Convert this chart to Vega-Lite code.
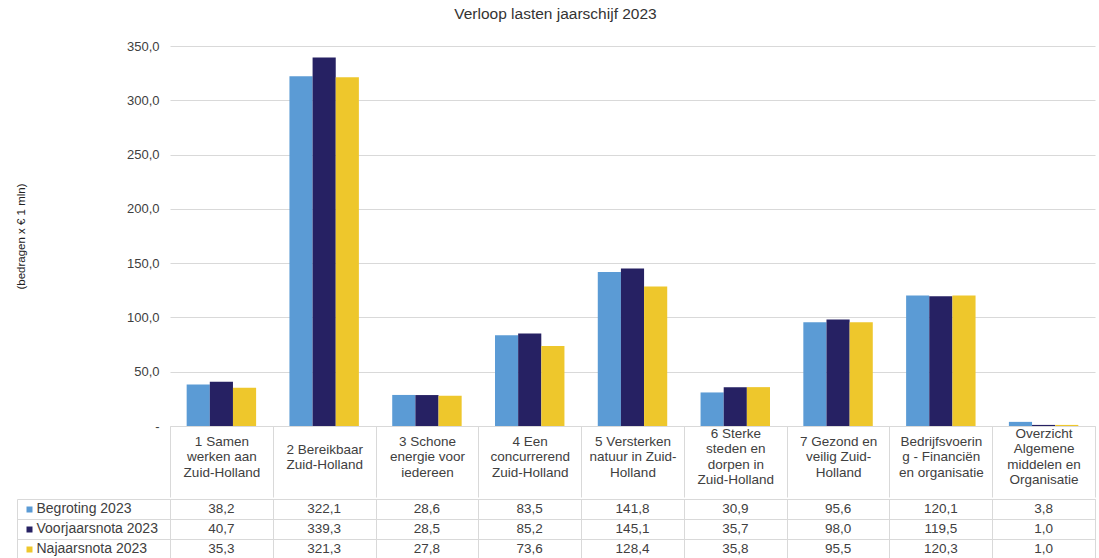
{
  "$schema": "https://vega.github.io/schema/vega-lite/v6.json",
  "padding": {"left": 15, "top": 6, "right": 0, "bottom": 0},
  "config": {
    "font": "Liberation Sans",
    "locale": {"number": {"decimal": ",", "thousands": ".", "grouping": [3], "currency": ["€ ", ""]}},
    "concat": {"spacing": 0},
    "title": {"fontSize": 15.5, "fontWeight": "normal", "color": "#333333", "offset": 18, "font": "Liberation Sans"},
    "axis": {"labelFont": "Liberation Sans", "titleFont": "Liberation Sans"}
  },
  "title": {"text": "Verloop  lasten jaarschijf 2023", "anchor": "middle"},
  "datasets": {
    "d": [
      {"cat": "1 Samen|werken aan|Zuid-Holland", "serie": "Begroting 2023", "v": 38.2},
      {"cat": "1 Samen|werken aan|Zuid-Holland", "serie": "Voorjaarsnota 2023", "v": 40.7},
      {"cat": "1 Samen|werken aan|Zuid-Holland", "serie": "Najaarsnota 2023", "v": 35.3},
      {"cat": "2 Bereikbaar|Zuid-Holland", "serie": "Begroting 2023", "v": 322.1},
      {"cat": "2 Bereikbaar|Zuid-Holland", "serie": "Voorjaarsnota 2023", "v": 339.3},
      {"cat": "2 Bereikbaar|Zuid-Holland", "serie": "Najaarsnota 2023", "v": 321.3},
      {"cat": "3 Schone|energie voor|iedereen", "serie": "Begroting 2023", "v": 28.6},
      {"cat": "3 Schone|energie voor|iedereen", "serie": "Voorjaarsnota 2023", "v": 28.5},
      {"cat": "3 Schone|energie voor|iedereen", "serie": "Najaarsnota 2023", "v": 27.8},
      {"cat": "4 Een|concurrerend|Zuid-Holland", "serie": "Begroting 2023", "v": 83.5},
      {"cat": "4 Een|concurrerend|Zuid-Holland", "serie": "Voorjaarsnota 2023", "v": 85.2},
      {"cat": "4 Een|concurrerend|Zuid-Holland", "serie": "Najaarsnota 2023", "v": 73.6},
      {"cat": "5 Versterken|natuur in Zuid-|Holland", "serie": "Begroting 2023", "v": 141.8},
      {"cat": "5 Versterken|natuur in Zuid-|Holland", "serie": "Voorjaarsnota 2023", "v": 145.1},
      {"cat": "5 Versterken|natuur in Zuid-|Holland", "serie": "Najaarsnota 2023", "v": 128.4},
      {"cat": "6 Sterke|steden en|dorpen in|Zuid-Holland", "serie": "Begroting 2023", "v": 30.9},
      {"cat": "6 Sterke|steden en|dorpen in|Zuid-Holland", "serie": "Voorjaarsnota 2023", "v": 35.7},
      {"cat": "6 Sterke|steden en|dorpen in|Zuid-Holland", "serie": "Najaarsnota 2023", "v": 35.8},
      {"cat": "7 Gezond en|veilig Zuid-|Holland", "serie": "Begroting 2023", "v": 95.6},
      {"cat": "7 Gezond en|veilig Zuid-|Holland", "serie": "Voorjaarsnota 2023", "v": 98.0},
      {"cat": "7 Gezond en|veilig Zuid-|Holland", "serie": "Najaarsnota 2023", "v": 95.5},
      {"cat": "Bedrijfsvoerin|g - Financiën|en organisatie", "serie": "Begroting 2023", "v": 120.1},
      {"cat": "Bedrijfsvoerin|g - Financiën|en organisatie", "serie": "Voorjaarsnota 2023", "v": 119.5},
      {"cat": "Bedrijfsvoerin|g - Financiën|en organisatie", "serie": "Najaarsnota 2023", "v": 120.3},
      {"cat": "Overzicht|Algemene|middelen en|Organisatie", "serie": "Begroting 2023", "v": 3.8},
      {"cat": "Overzicht|Algemene|middelen en|Organisatie", "serie": "Voorjaarsnota 2023", "v": 1.0},
      {"cat": "Overzicht|Algemene|middelen en|Organisatie", "serie": "Najaarsnota 2023", "v": 1.0}
    ]
  },
  "spacing": 0,
  "vconcat": [
    {
      "width": 925,
      "height": 380,
      "view": {"stroke": null},
      "data": {"name": "d"},
      "mark": {"type": "bar"},
      "encoding": {
        "x": {
          "field": "cat", "type": "nominal", "sort": null,
          "scale": {"paddingInner": 0, "paddingOuter": 0},
          "axis": {
            "title": null, "labelAngle": 0,
            "labelExpr": "split(datum.label, '|')",
            "labelBaseline": {
              "condition": [
                {"test": "length(split(datum.value, '|')) === 4", "value": "line-bottom"},
                {"test": "length(split(datum.value, '|')) === 2", "value": "line-top"}
              ],
              "value": "middle"
            },
            "labelPadding": -55.5, "labelFontSize": 13.5,
            "labelLineHeight": 15.3, "labelColor": "#404040", "labelLimit": 0, "labelOverlap": false,
            "tickBand": "extent", "tickSize": 71, "tickColor": "#D9D9D9", "domainColor": "#D9D9D9"
          }
        },
        "xOffset": {
          "field": "serie", "type": "nominal",
          "sort": ["Begroting 2023", "Voorjaarsnota 2023", "Najaarsnota 2023"],
          "scale": {"paddingInner": 0, "paddingOuter": 0.72}
        },
        "y": {
          "field": "v", "type": "quantitative",
          "scale": {"domain": [0, 350], "nice": false},
          "axis": {
            "values": [0, 50, 100, 150, 200, 250, 300, 350],
            "format": ",.1f",
            "labelExpr": "datum.value === 0 ? '-' : datum.label",
            "title": "(bedragen x € 1 mln)", "titleFontSize": 11.5, "titleFontWeight": "normal",
            "titleColor": "#222222", "titlePadding": 100,
            "ticks": false, "domain": false, "labelPadding": 11, "labelFontSize": 13,
            "labelColor": "#404040", "gridColor": "#D9D9D9"
          }
        },
        "color": {
          "field": "serie", "type": "nominal",
          "scale": {
            "domain": ["Begroting 2023", "Voorjaarsnota 2023", "Najaarsnota 2023"],
            "range": ["#5B9BD5", "#262163", "#EEC72C"]
          },
          "legend": null
        }
      }
    },
    {
      "width": 925,
      "height": 60,
      "view": {"stroke": "#D9D9D9"},
      "data": {"name": "d"},
      "resolve": {"axis": {"y": "independent"}},
      "layer": [
        {
          "mark": {"type": "text", "fontSize": 13.5, "color": "#404040", "font": "Liberation Sans"},
          "encoding": {
            "x": {
              "field": "cat", "type": "nominal", "sort": null,
              "scale": {"paddingInner": 0, "paddingOuter": 0},
              "axis": {"orient": "bottom", "title": null, "labels": false, "ticks": false, "domain": false,
                       "grid": true, "tickBand": "extent", "gridColor": "#D9D9D9", "minExtent": 0, "maxExtent": 0}
            },
            "y": {
              "field": "serie", "type": "nominal",
              "sort": ["Begroting 2023", "Voorjaarsnota 2023", "Najaarsnota 2023"],
              "scale": {"paddingInner": 0, "paddingOuter": 0},
              "axis": {"orient": "left", "title": null, "labels": false, "domain": false,
                       "ticks": true, "tickSize": 153, "tickColor": "#D9D9D9", "tickBand": "extent",
                       "grid": true, "gridColor": "#D9D9D9"}
            },
            "text": {"field": "v", "type": "quantitative", "format": ".1f"}
          }
        },
        {
          "mark": {"type": "text", "text": ""},
          "encoding": {
            "y": {
              "field": "serie", "type": "nominal",
              "sort": ["Begroting 2023", "Voorjaarsnota 2023", "Najaarsnota 2023"],
              "axis": {"orient": "left", "title": null, "labels": false, "ticks": false, "grid": false,
                       "domain": true, "domainColor": "#D9D9D9", "offset": 153}
            }
          }
        },
        {
          "mark": {"type": "text", "text": ""},
          "encoding": {
            "y": {
              "field": "serie", "type": "nominal",
              "sort": ["Begroting 2023", "Voorjaarsnota 2023", "Najaarsnota 2023"],
              "axis": {
                "orient": "left", "title": null, "grid": false, "domain": false,
                "ticks": true, "tickSize": 6, "tickWidth": 6,
                "tickColor": {
                  "condition": [
                    {"test": "datum.value === 'Begroting 2023'", "value": "#5B9BD5"},
                    {"test": "datum.value === 'Voorjaarsnota 2023'", "value": "#262163"}
                  ],
                  "value": "#EEC72C"
                },
                "offset": 138, "labelAlign": "left", "labelPadding": -10, "labelFontSize": 14,
                "labelColor": "#404040", "labelBaseline": "middle", "labelLimit": 0
              }
            }
          }
        }
      ]
    }
  ]
}
